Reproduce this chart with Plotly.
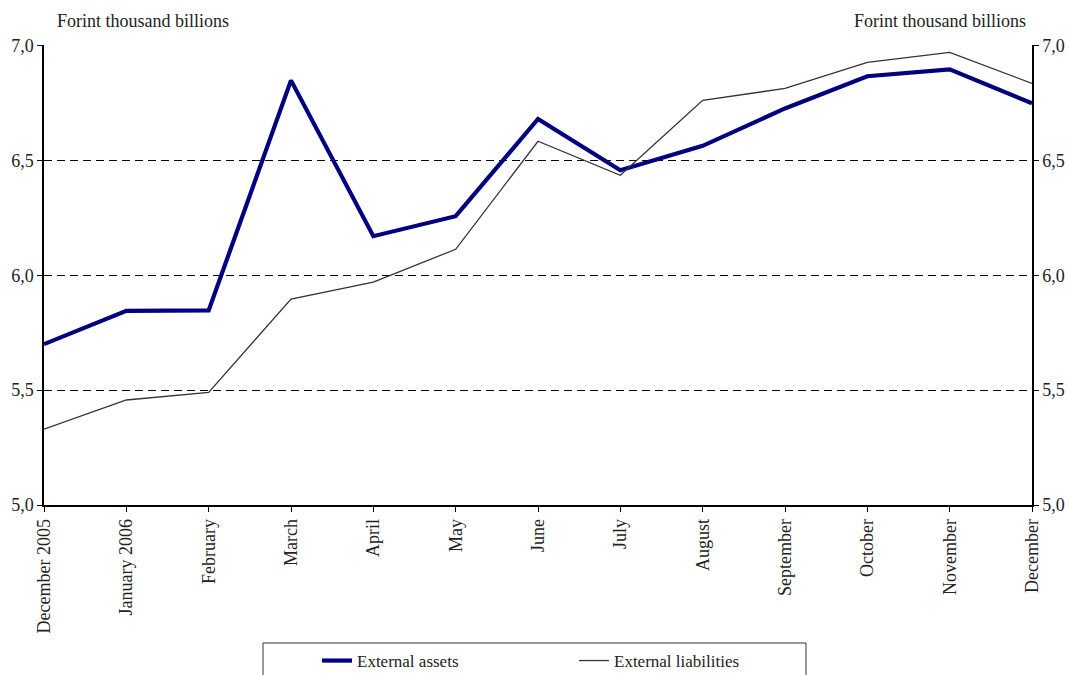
import plotly.graph_objects as go

# Monthly stock of external assets and liabilities (HUF thousand billions)
months = ["December 2005", "January 2006", "February", "March", "April", "May",
          "June", "July", "August", "September", "October", "November", "December"]
external_assets = [5.70, 5.845, 5.847, 6.848, 6.17, 6.257, 6.68, 6.457, 6.563,
                   6.726, 6.866, 6.896, 6.748]
external_liabilities = [5.33, 5.457, 5.49, 5.896, 5.97, 6.113, 6.583, 6.435, 6.761,
                        6.813, 6.926, 6.97, 6.835]
y_ticks = [5.0, 5.5, 6.0, 6.5, 7.0]
y_ticktext = ["5,0", "5,5", "6,0", "6,5", "7,0"]
unit_label = "Forint thousand billions"

FONT = "Liberation Serif"
FS = 18
x_idx = list(range(len(months)))

# plot area in pixels
L, R, T, B = 44, 1032, 45, 505
PW, PH = R - L, B - T

fig = go.Figure()
fig.add_trace(go.Scatter(
    x=x_idx, y=external_assets, mode="lines", name="External assets",
    line=dict(color="#000080", width=4.2),
))
fig.add_trace(go.Scatter(
    x=x_idx, y=external_liabilities, mode="lines", name="External liabilities",
    line=dict(color="#333333", width=1.3),
))
# invisible companion trace so the right-hand axis is rendered
fig.add_trace(go.Scatter(
    x=[x_idx[0]], y=[external_assets[0]], yaxis="y2", mode="lines",
    line=dict(width=0), showlegend=False, hoverinfo="skip",
))

axis_common = dict(
    range=[5.0, 7.002], tickvals=y_ticks, ticktext=y_ticktext,
    ticks="outside", ticklen=5, tickcolor="black", tickwidth=1,
    showline=True, linecolor="black", linewidth=1.5,
    tickfont=dict(family=FONT, size=FS, color="#222"),
    zeroline=False,
)

fig.update_layout(
    width=1069, height=675,
    margin=dict(l=L, r=1069 - R, t=T, b=675 - B, autoexpand=False),
    paper_bgcolor="white", plot_bgcolor="white",
    font=dict(family=FONT, color="#222"),
    xaxis=dict(
        range=[0, len(months) - 1], tickvals=x_idx, ticktext=months,
        tickangle=-90, ticks="outside", ticklen=5, tickcolor="black",
        showline=True, linecolor="black", linewidth=1.5, showgrid=False,
        tickfont=dict(family=FONT, size=FS, color="#222"), zeroline=False,
    ),
    yaxis=dict(**axis_common, showgrid=True, gridcolor="black", gridwidth=1,
               griddash="8px,5px"),
    yaxis2=dict(**axis_common, overlaying="y", side="right", showgrid=False),
    showlegend=True,
    legend=dict(
        orientation="h", x=(317 - L) / PW, xanchor="left",
        y=-(643 - B) / PH, yanchor="top",
        font=dict(family=FONT, size=17, color="#222"),
        bgcolor="rgba(0,0,0,0)", borderwidth=0, entrywidth=212,
        traceorder="normal",
    ),
    shapes=[dict(
        type="rect", xref="paper", yref="paper",
        x0=(263 - L) / PW, x1=(806 - L) / PW,
        y0=-(700 - B) / PH, y1=-(643 - B) / PH,
        line=dict(color="#333", width=1), fillcolor="rgba(0,0,0,0)",
    )],
    annotations=[
        dict(text=unit_label, xref="paper", yref="paper", x=(55 - L) / PW,
             y=1.0 + 12 / PH, xanchor="left", yanchor="bottom", showarrow=False,
             font=dict(family=FONT, size=FS, color="#222")),
        dict(text=unit_label, xref="paper", yref="paper", x=(1028 - L) / PW,
             y=1.0 + 12 / PH, xanchor="right", yanchor="bottom", showarrow=False,
             font=dict(family=FONT, size=FS, color="#222")),
    ],
)

fig.write_html("out.html")
